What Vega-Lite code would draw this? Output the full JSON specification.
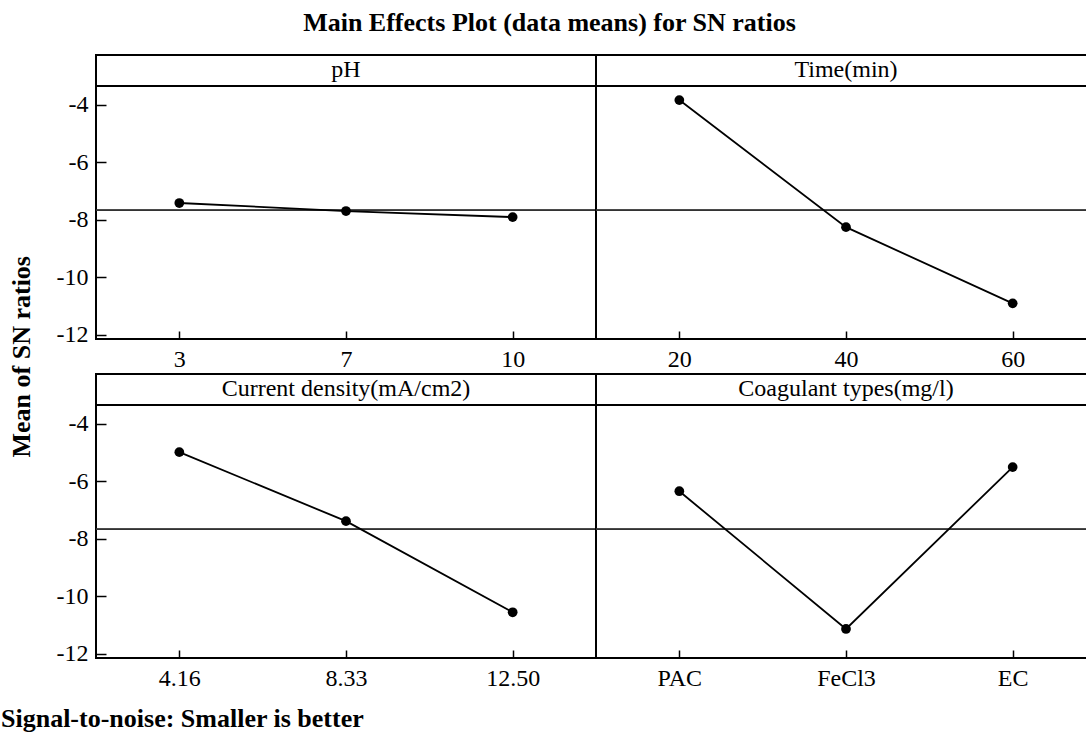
{
  "$schema": "https://vega.github.io/schema/vega-lite/v6.json",
  "padding": {"left": 0, "top": 10, "right": 0, "bottom": 0},
  "title": {
    "text": "Main Effects Plot (data means) for SN ratios",
    "font": "Liberation Serif",
    "fontSize": 26,
    "fontWeight": "bold",
    "color": "black",
    "anchor": "middle",
    "frame": "bounds",
    "offset": 18
  },
  "data": {
    "values": [
      {"r": "top", "c": "left", "factor": "pH", "level": "3", "order": 1, "value": -7.41},
      {"r": "top", "c": "left", "factor": "pH", "level": "7", "order": 2, "value": -7.69},
      {"r": "top", "c": "left", "factor": "pH", "level": "10", "order": 3, "value": -7.90},
      {"r": "top", "c": "right", "factor": "Time(min)", "level": "20", "order": 1, "value": -3.83},
      {"r": "top", "c": "right", "factor": "Time(min)", "level": "40", "order": 2, "value": -8.25},
      {"r": "top", "c": "right", "factor": "Time(min)", "level": "60", "order": 3, "value": -10.90},
      {"r": "bottom", "c": "left", "factor": "Current density(mA/cm2)", "level": "4.16", "order": 1, "value": -4.98},
      {"r": "bottom", "c": "left", "factor": "Current density(mA/cm2)", "level": "8.33", "order": 2, "value": -7.38},
      {"r": "bottom", "c": "left", "factor": "Current density(mA/cm2)", "level": "12.50", "order": 3, "value": -10.55},
      {"r": "bottom", "c": "right", "factor": "Coagulant types(mg/l)", "level": "PAC", "order": 1, "value": -6.34},
      {"r": "bottom", "c": "right", "factor": "Coagulant types(mg/l)", "level": "FeCl3", "order": 2, "value": -11.13},
      {"r": "bottom", "c": "right", "factor": "Coagulant types(mg/l)", "level": "EC", "order": 3, "value": -5.50}
    ]
  },
  "vconcat": [
    {
      "title": {
        "text": "Signal-to-noise: Smaller is better",
        "orient": "bottom",
        "anchor": "start",
        "frame": "bounds",
        "font": "Liberation Serif",
        "fontSize": 26,
        "fontWeight": "bold",
        "color": "black",
        "offset": 15,
        "dx": -8
      },
      "bounds": "flush",
      "spacing": {"row": 35, "column": 0},
      "facet": {
        "row": {
          "field": "r",
          "sort": ["top", "bottom"],
          "header": {
            "title": "\u200b\u00a0\u00a0\u00a0\u00a0\u00a0Mean of SN ratios",
            "labels": false,
            "titleFont": "Liberation Serif",
            "titleFontSize": 26,
            "titleFontWeight": "bold",
            "titleColor": "black",
            "titlePadding": 11
          }
        },
        "column": {
          "field": "c",
          "sort": ["left", "right"],
          "header": {"title": null, "labels": false}
        }
      },
      "resolve": {"scale": {"x": "independent"}, "axis": {"x": "independent"}},
      "spec": {
        "width": 500,
        "height": 284,
        "encoding": {
          "y": {
            "field": "value",
            "type": "quantitative",
            "scale": {"domain": [-12.14, -2.262], "nice": false, "zero": false},
            "axis": {
              "title": null,
              "values": [-12, -10, -8, -6, -4],
              "labelExpr": "replace(datum.label, '\u2212', '-')",
              "tickSize": -10,
              "labelPadding": 18
            }
          }
        },
        "layer": [
          {
            "mark": {"type": "rule", "color": "black", "strokeWidth": 2},
            "encoding": {"y": {"datum": -3.34, "type": "quantitative"}}
          },
          {
            "mark": {"type": "rule", "color": "#333333", "strokeWidth": 1.6},
            "encoding": {"y": {"datum": -7.66, "type": "quantitative"}}
          },
          {
            "mark": {"type": "line", "color": "black", "strokeWidth": 1.8},
            "encoding": {
              "x": {
                "field": "level",
                "type": "ordinal",
                "sort": {"field": "order"},
                "axis": {"title": null, "labelAngle": 0, "tickSize": -8, "labelPadding": 16}
              }
            }
          },
          {
            "mark": {"type": "point", "filled": true, "color": "black", "opacity": 1, "size": 95},
            "encoding": {
              "x": {"field": "level", "type": "ordinal", "sort": {"field": "order"}}
            }
          },
          {
            "transform": [{"filter": "datum.order == 2"}],
            "mark": {"type": "text", "font": "Liberation Serif", "fontSize": 24, "color": "black", "baseline": "middle", "align": "center"},
            "encoding": {
              "y": {"datum": -2.80, "type": "quantitative"},
              "text": {"field": "factor"}
            }
          }
        ]
      }
    }
  ],
  "config": {
    "view": {"stroke": "black", "strokeWidth": 2},
    "font": "Liberation Serif",
    "axis": {
      "labelFont": "Liberation Serif",
      "labelFontSize": 24,
      "labelColor": "black",
      "tickColor": "black",
      "tickWidth": 1.5,
      "domain": false,
      "grid": false
    }
  }
}
